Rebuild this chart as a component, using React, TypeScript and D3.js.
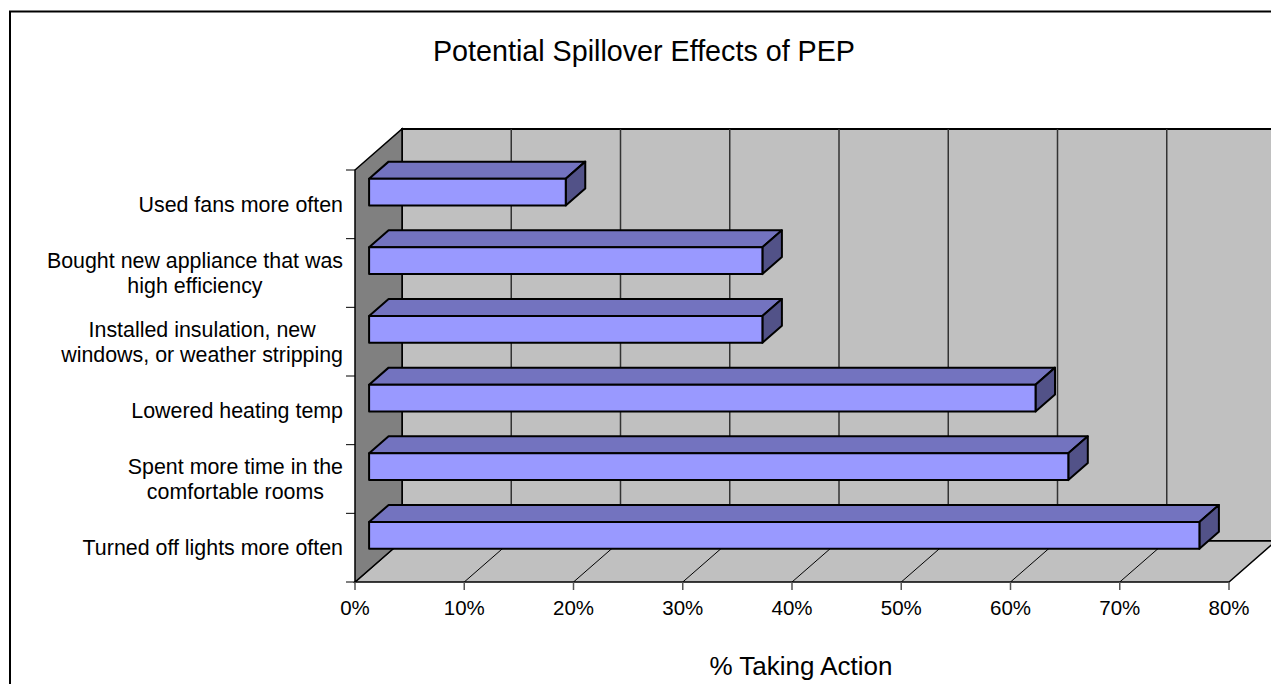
import React from "react";
import * as d3 from "d3";

// Share of participants taking each action (%)
const categories = [
  "Used fans more often",
  "Bought new appliance that was\nhigh efficiency",
  "Installed insulation, new\nwindows, or weather stripping",
  "Lowered heating temp",
  "Spent more time in the\ncomfortable rooms",
  "Turned off lights more often",
];
const values = [18, 36, 36, 61, 64, 76];
const xTicks = [0, 10, 20, 30, 40, 50, 60, 70, 80];
const tickFormat = (v: number) => `${v}%`;

const chartTitle = "Potential Spillover Effects of PEP";
const axisTitle = "% Taking Action";

const W = 1271;
const H = 684;
const FONT = "'Liberation Sans', Arial, Helvetica, sans-serif";

// 3D box geometry: front-left corner of the floor, and depth offset
const X0 = 355;
const X1 = 1229;
const YTOP = 170;
const YBOT = 582;
const DX = 47;
const DY = -41;
// bars sit in the middle of the depth
const BAR_F0 = 0.3;
const BAR_F1 = 0.715;

const FRONT = "#9999FF";
const TOP = "#7373BF";
const SIDE = "#525288";

export default function App() {
  const x = d3.scaleLinear().domain([0, 80]).range([X0, X1]);
  const y = d3
    .scaleBand<string>()
    .domain(categories)
    .range([YTOP, YBOT])
    .paddingInner(0.61)
    .paddingOuter(0.305);
  const step = y.step();

  const pts = (p: [number, number][]) => p.map((q) => q.join(",")).join(" ");

  const sideWall = pts([
    [X0, YTOP],
    [X0 + DX, YTOP + DY],
    [X0 + DX, YBOT + DY],
    [X0, YBOT],
  ]);
  const backWall = pts([
    [X0 + DX, YTOP + DY],
    [X1 + DX, YTOP + DY],
    [X1 + DX, YBOT + DY],
    [X0 + DX, YBOT + DY],
  ]);
  const floor = pts([
    [X0, YBOT],
    [X1, YBOT],
    [X1 + DX, YBOT + DY],
    [X0 + DX, YBOT + DY],
  ]);

  const fx0 = BAR_F0 * DX;
  const fy0 = BAR_F0 * DY;
  const bdx = (BAR_F1 - BAR_F0) * DX;
  const bdy = (BAR_F1 - BAR_F0) * DY;

  return (
    <div style={{ position: "fixed", left: 0, top: 0, width: W, height: H, background: "#fff" }}>
      <svg width={W} height={H} style={{ display: "block" }}>
        <rect x={10} y={11.5} width={W + 20} height={H + 20} fill="#fff" stroke="#000" strokeWidth={2} />

        <text x={644} y={61} textAnchor="middle" fontFamily={FONT} fontSize={28.7} fill="#000">
          {chartTitle}
        </text>

        {/* walls and floor */}
        <polygon points={backWall} fill="#C0C0C0" stroke="#000" strokeWidth={2} />
        <polygon points={floor} fill="#C0C0C0" stroke="#000" strokeWidth={1.5} />
        <polygon points={sideWall} fill="#808080" stroke="#000" strokeWidth={1.5} />

        {/* gridlines on back wall and floor */}
        {xTicks.slice(1, -1).map((t) => (
          <g key={`g${t}`}>
            <line x1={x(t) + DX} x2={x(t) + DX} y1={YTOP + DY} y2={YBOT + DY} stroke="#333" strokeWidth={1.5} />
            <line x1={x(t)} y1={YBOT} x2={x(t) + DX} y2={YBOT + DY} stroke="#000" strokeWidth={1} />
          </g>
        ))}

        {/* bars */}
        {categories.map((c, i) => {
          const v = values[i];
          const xl = x(0) + fx0;
          const xr = x(v) + fx0;
          const yt = (y(c) as number) + fy0;
          const yb = yt + y.bandwidth();
          return (
            <g key={c} stroke="#000" strokeWidth={2} strokeLinejoin="round">
              <polygon
                points={pts([
                  [xl, yt],
                  [xl + bdx, yt + bdy],
                  [xr + bdx, yt + bdy],
                  [xr, yt],
                ])}
                fill={TOP}
              />
              <polygon
                points={pts([
                  [xr, yt],
                  [xr + bdx, yt + bdy],
                  [xr + bdx, yb + bdy],
                  [xr, yb],
                ])}
                fill={SIDE}
              />
              <rect x={xl} y={yt} width={xr - xl} height={yb - yt} fill={FRONT} />
            </g>
          );
        })}

        {/* category axis ticks and labels */}
        {d3.range(categories.length + 1).map((i) => (
          <line key={`ct${i}`} x1={346} x2={X0} y1={YTOP + i * step} y2={YTOP + i * step} stroke="#000" strokeWidth={1} />
        ))}
        {categories.map((c) => {
          const lines = c.split("\n");
          const cy = (y(c) as number) + y.bandwidth() / 2;
          const lh = 25;
          const fs = 21.4;
          const multi = lines.length > 1;
          return (
            <text
              key={`cl${c}`}
              fontFamily={FONT}
              fontSize={fs}
              fill="#000"
              textAnchor={multi ? "middle" : "end"}
              ref={(el) => {
                if (!el || !multi) return;
                // widest line is right-aligned, lines centred within the block
                const spans = Array.from(el.querySelectorAll("tspan")) as SVGTSpanElement[];
                const w = Math.max(...spans.map((s) => s.getComputedTextLength()));
                spans.forEach((s) => s.setAttribute("x", String(343 - w / 2)));
              }}
            >
              {lines.map((l, j) => (
                <tspan
                  key={j}
                  x={multi ? 200 : 343}
                  y={cy - ((lines.length - 1) * lh) / 2 + j * lh + fs * 0.35}
                >
                  {l}
                </tspan>
              ))}
            </text>
          );
        })}

        {/* value axis */}
        {xTicks.map((t) => (
          <g key={`xt${t}`}>
            <line x1={x(t)} x2={x(t)} y1={YBOT} y2={YBOT + 8} stroke="#555" strokeWidth={1.5} />
            <text x={x(t)} y={615} textAnchor="middle" fontFamily={FONT} fontSize={20.5} fill="#000">
              {tickFormat(t)}
            </text>
          </g>
        ))}
        <text x={801} y={675} textAnchor="middle" fontFamily={FONT} fontSize={26} fill="#000">
          {axisTitle}
        </text>
      </svg>
    </div>
  );
}
